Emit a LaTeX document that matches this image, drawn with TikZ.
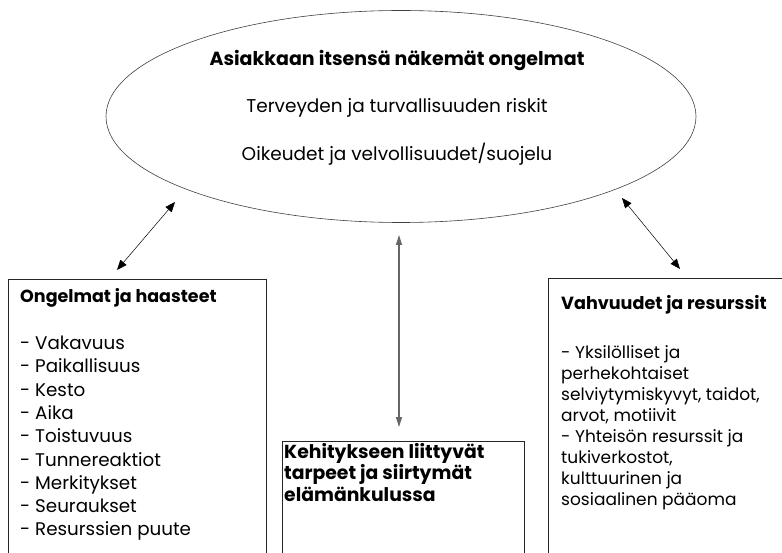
\documentclass[tikz,border=0pt]{standalone}
\usepackage{fontspec}
\setmainfont{Poppins}
\usetikzlibrary{shapes.geometric,arrows.meta}
\tikzset{
  ovalst/.style={ellipse, draw=black!75, line width=0.6pt, minimum width=590pt, minimum height=212pt, inner sep=0pt, outer sep=0pt},
  boxst/.style={draw=black!85, line width=0.9pt, rectangle, inner sep=0pt, outer sep=0pt, anchor=north west},
  txt/.style={inner sep=0pt, font=\fontsize{18.5}{21}\selectfont},
  ttl/.style={inner sep=0pt, font=\fontsize{19}{21}\selectfont\bfseries},
  blk/.style={inner sep=0pt, anchor=north west, align=left},
  dbl/.style={{Triangle[length=10pt,width=8pt]}-{Triangle[length=10pt,width=8pt]}, line width=0.5pt, black},
  vdbl/.style={{Triangle[length=10pt,width=6pt]}-{Triangle[length=10pt,width=6pt]}, line width=1.3pt, black!60},
}
\begin{document}
\begin{tikzpicture}[x=1pt,y=-1pt]
\clip (0,0) rectangle (782,553);
\fill[white] (0,0) rectangle (782,553);
% ellipse
\node[ovalst] (ell) at (401,116.5) {};
\node[ttl] (t1) at (397,61) {Asiakkaan itsensä näkemät ongelmat};
\node[txt] (t2) at (397,108) {Terveyden ja turvallisuuden riskit};
\node[txt] (t3) at (397,154) {Oikeudet ja velvollisuudet/suojelu};
% boxes
\node[boxst, minimum width=258pt, minimum height=300pt] (lbox) at (8,279) {};
\node[boxst, minimum width=242pt, minimum height=200pt] (mbox) at (282,441) {};
\node[boxst, minimum width=260pt, minimum height=300pt] (rbox) at (548,278) {};
% left box text
\node[blk, font=\fontsize{18.3}{23.3}\selectfont] (ltext) at ([xshift=12pt,yshift=-9pt]lbox.north west)
  {\fontsize{17.5}{23.3}\selectfont\textbf{Ongelmat ja haasteet}\\[24pt]
   - Vakavuus\\
   - Paikallisuus\\
   - Kesto\\
   - Aika\\
   - Toistuvuus\\
   - Tunnereaktiot\\
   - Merkitykset\\
   - Seuraukset\\
   - Resurssien puute};
% middle box text
\node[blk, font=\fontsize{18.8}{21.7}\selectfont\bfseries] (mtext) at ([xshift=2pt,yshift=-2pt]mbox.north west)
  {Kehitykseen liittyvät\\
   tarpeet ja siirtymät\\
   elämänkulussa};
% right box text
\node[blk, font=\fontsize{17}{21}\selectfont] (rtext) at ([xshift=13pt,yshift=-17pt]rbox.north west)
  {\fontsize{17.6}{21}\selectfont\textbf{Vahvuudet ja resurssit}\\[28pt]
   - Yksilölliset ja\\
   perhekohtaiset\\
   selviytymiskyvyt, taidot,\\
   arvot, motiivit\\
   - Yhteisön resurssit ja\\
   tukiverkostot,\\
   kulttuurinen ja\\
   sosiaalinen pääoma};
% arrow endpoints
\coordinate (la1) at (175,202);
\coordinate (la2) at (117,270);
\coordinate (ra1) at (622,198);
\coordinate (ra2) at (680,269);
\coordinate (ma1) at (399,235);
\coordinate (ma2) at (399,427);
\draw[dbl] (la1) -- (la2);
\draw[dbl] (ra1) -- (ra2);
\draw[vdbl] (ma1) -- (ma2);
\end{tikzpicture}
\end{document}
